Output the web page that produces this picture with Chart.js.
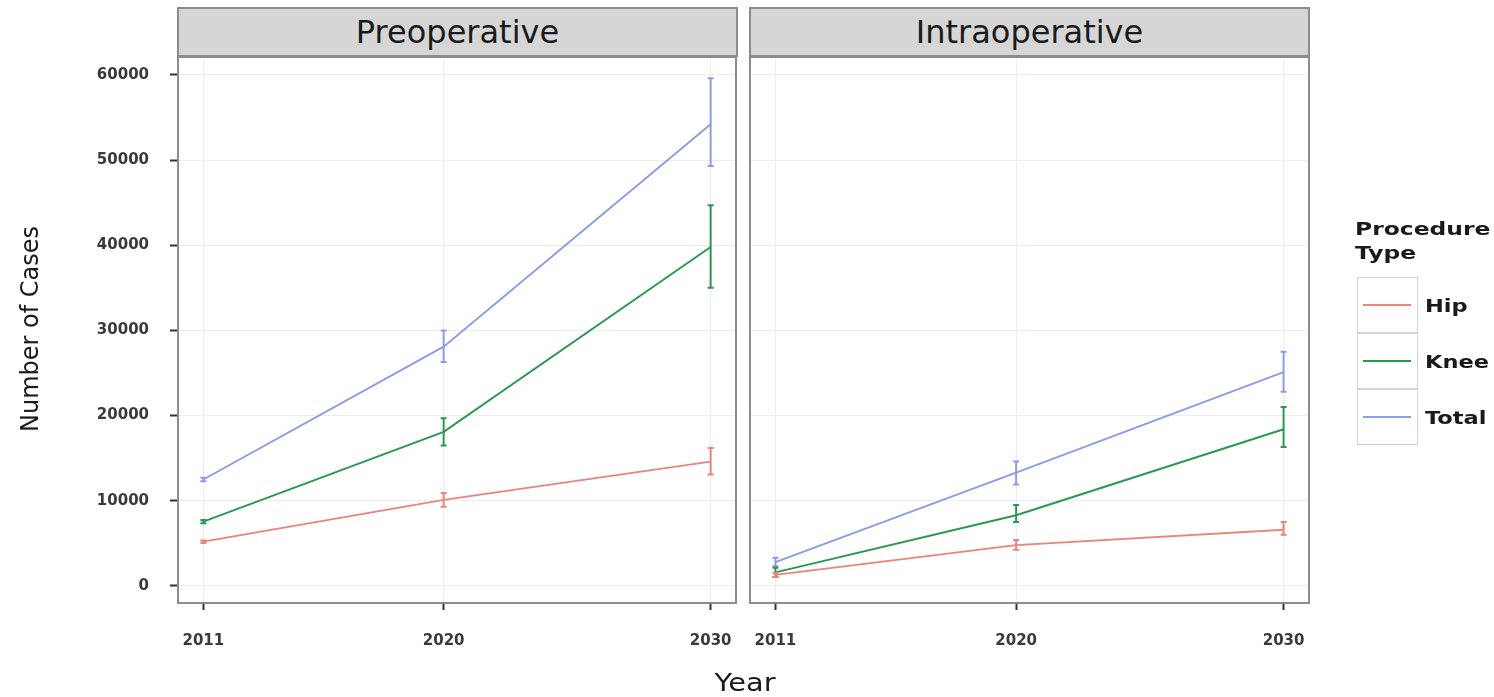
<!DOCTYPE html>
<html>
<head>
<meta charset="utf-8">
<script src="https://cdn.jsdelivr.net/npm/chart.js@4.4.1/dist/chart.umd.min.js"></script>
<style>
  html, body { margin: 0; padding: 0; background: #fff; width: 1494px; height: 697px; overflow: hidden; font-family: "DejaVu Sans", sans-serif; }
  #wrap { position: relative; width: 1494px; height: 697px; }
  canvas { position: absolute; top: 0; }
  .strip { position: absolute; top: 7px; height: 50px; box-sizing: border-box; background: #d6d6d6; border: 2px solid #8c8c8c;
           display: flex; align-items: center; justify-content: center; font-size: 32px; color: #1a1a1a; }
  #ylab { position: absolute; left: 30px; top: 329px; transform: translate(-50%, -50%) rotate(-90deg); font-size: 24px; color: #1a1a1a; white-space: nowrap; }
  #xlab { position: absolute; left: 745px; top: 683px; transform: translate(-50%, -50%) scaleX(1.2); font-size: 24px; color: #1a1a1a; }
  #ltitle { position: absolute; left: 1355px; top: 217px; font-size: 18px; font-weight: bold; line-height: 24px; color: #1a1a1a; transform: scaleX(1.3); transform-origin: left top; white-space: nowrap; }
  .key { position: absolute; left: 1357px; width: 61px; height: 56px; box-sizing: border-box; border: 1.5px solid #d2d2d2; background: #fff; }
  .key i { position: absolute; left: 5px; right: 6px; top: 26px; height: 2px; }
  .klab { position: absolute; left: 1425px; font-size: 18px; font-weight: bold; color: #1a1a1a; transform: translateY(-50%) scaleX(1.25); transform-origin: left center; white-space: nowrap; }
</style>
</head>
<body>
<div id="wrap">
  <canvas id="pre" width="745" height="697" style="left:0;width:745px;height:697px"></canvas>
  <canvas id="intra" width="749" height="697" style="left:745px;width:749px;height:697px"></canvas>
  <div class="strip" style="left:177px;width:561px">Preoperative</div>
  <div class="strip" style="left:749px;width:561px">Intraoperative</div>
  <div id="ylab">Number of Cases</div>
  <div id="xlab">Year</div>
  <div id="ltitle">Procedure<br>Type</div>
  <div id="legend"></div>
</div>
<script>
// Projected case counts with interval bounds, by procedure type
const years = [2011, 2020, 2030];
const yTickValues = [0, 10000, 20000, 30000, 40000, 50000, 60000];
const seriesNames = ['Hip', 'Knee', 'Total'];
const seriesColors = ['#e8857c', '#2a9850', '#8c9de3'];

// Preoperative
const preHip     = [5200, 10100, 14600];
const preHipLo   = [5050, 9300, 13100];
const preHipHi   = [5350, 10900, 16200];
const preKnee    = [7550, 18100, 39800];
const preKneeLo  = [7350, 16500, 35000];
const preKneeHi  = [7750, 19700, 44700];
const preTotal   = [12500, 28100, 54200];
const preTotalLo = [12300, 26300, 49300];
const preTotalHi = [12700, 30000, 59600];

// Intraoperative
const intraHip     = [1300, 4800, 6600];
const intraHipLo   = [1050, 4250, 6000];
const intraHipHi   = [1550, 5400, 7500];
const intraKnee    = [1600, 8300, 18400];
const intraKneeLo  = [1050, 7500, 16300];
const intraKneeHi  = [2150, 9500, 21000];
const intraTotal   = [2800, 13300, 25100];
const intraTotalLo = [2300, 11900, 22800];
const intraTotalHi = [3300, 14600, 27500];

const Y_MIN = -2000, Y_MAX = 62100;
const X_MIN = 2010.05, X_MAX = 2030.95;

const tickFont = { family: 'DejaVu Sans', size: 15, weight: 'bold' };
const tickColor = '#3a3a3a';
const gridColor = '#ededed';

// vertical interval bars with short caps, placed through the chart scales
const errorBars = {
  id: 'errorBars',
  afterDatasetsDraw(chart) {
    const { ctx, scales: { x, y } } = chart;
    chart.data.datasets.forEach(ds => {
      ctx.save();
      ctx.strokeStyle = ds.borderColor;
      ctx.lineWidth = 2;
      ds.data.forEach((pt, j) => {
        const px = x.getPixelForValue(pt.x);
        const top = y.getPixelForValue(ds.errHi[j]);
        const bot = y.getPixelForValue(ds.errLo[j]);
        const cap = 3;
        ctx.beginPath();
        ctx.moveTo(px, top); ctx.lineTo(px, bot);
        ctx.moveTo(px - cap, top); ctx.lineTo(px + cap, top);
        ctx.moveTo(px - cap, bot); ctx.lineTo(px + cap, bot);
        ctx.stroke();
      });
      ctx.restore();
    });
  }
};

const panelBorder = {
  id: 'panelBorder',
  afterDraw(chart) {
    const a = chart.chartArea, ctx = chart.ctx;
    ctx.save();
    ctx.strokeStyle = '#8c8c8c';
    ctx.lineWidth = 2;
    ctx.strokeRect(a.left, a.top, a.right - a.left, a.bottom - a.top);
    ctx.restore();
  }
};

function makeDatasets(vals, los, his) {
  // drawn so that Total ends up on top
  const order = [2, 1, 0];
  return order.map(k => ({
    label: seriesNames[k],
    data: years.map((yr, j) => ({ x: yr, y: vals[k][j] })),
    errLo: los[k],
    errHi: his[k],
    borderColor: seriesColors[k],
    backgroundColor: seriesColors[k],
    borderWidth: 1.9,
    pointRadius: 0,
    tension: 0,
    fill: false
  }));
}

function makePanel(id, datasets, yWidth, showY, padding) {
  new Chart(document.getElementById(id), {
    type: 'line',
    data: { datasets },
    options: {
      responsive: false,
      animation: false,
      devicePixelRatio: 1,
      layout: { padding },
      plugins: { legend: { display: false }, tooltip: { enabled: false } },
      scales: {
        x: {
          type: 'linear',
          min: X_MIN, max: X_MAX,
          afterBuildTicks: s => { s.ticks = years.map(v => ({ value: v })); },
          afterFit: s => { s.height = 94; s.paddingLeft = 0; s.paddingRight = 0; },
          ticks: { callback: v => String(v), font: tickFont, color: tickColor, padding: 22, maxRotation: 0, autoSkip: false },
          grid: { color: gridColor, lineWidth: 1, drawTicks: true, tickLength: 7, tickWidth: 2, tickColor: '#333' },
          border: { display: false }
        },
        y: {
          type: 'linear',
          min: Y_MIN, max: Y_MAX,
          afterBuildTicks: s => { s.ticks = yTickValues.map(v => ({ value: v })); },
          afterFit: s => { s.width = yWidth; s.paddingTop = 0; s.paddingBottom = 0; },
          ticks: { display: showY, callback: v => String(v), font: tickFont, color: tickColor, padding: 21 },
          grid: { color: gridColor, lineWidth: 1, drawTicks: showY, tickLength: 8, tickWidth: 2, tickColor: '#333' },
          border: { display: false }
        }
      }
    },
    plugins: [errorBars, panelBorder]
  });
}

makePanel('pre',
  makeDatasets([preHip, preKnee, preTotal], [preHipLo, preKneeLo, preTotalLo], [preHipHi, preKneeHi, preTotalHi]),
  178, true, { top: 57, right: 9, left: 0, bottom: 0 });

makePanel('intra',
  makeDatasets([intraHip, intraKnee, intraTotal], [intraHipLo, intraKneeLo, intraTotalLo], [intraHipHi, intraKneeHi, intraTotalHi]),
  5, false, { top: 57, right: 185, left: 0, bottom: 0 });

// legend keys
const legend = document.getElementById('legend');
seriesNames.forEach((name, k) => {
  const top = 277 + k * 56;
  const key = document.createElement('div');
  key.className = 'key';
  key.style.top = top + 'px';
  const line = document.createElement('i');
  line.style.background = seriesColors[k];
  key.appendChild(line);
  legend.appendChild(key);
  const lab = document.createElement('div');
  lab.className = 'klab';
  lab.style.top = (top + 28) + 'px';
  lab.textContent = name;
  legend.appendChild(lab);
});
</script>
</body>
</html>
